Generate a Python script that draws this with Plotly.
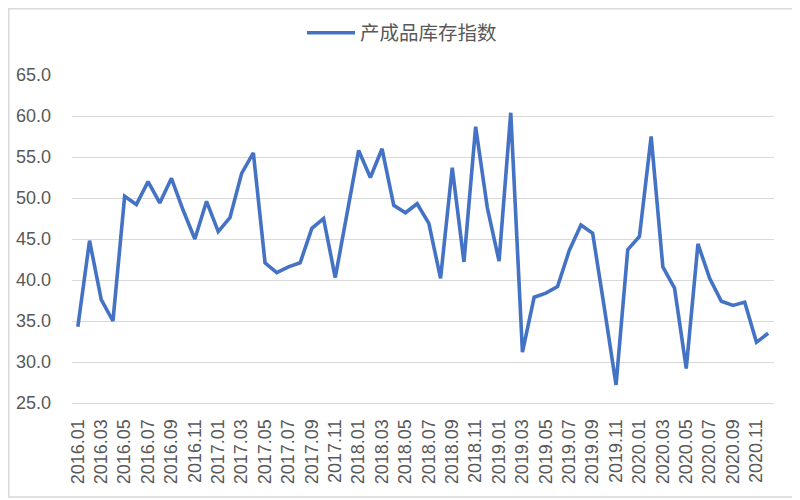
import plotly.graph_objects as go

months = [f"{y}.{m:02d}" for y in range(2016, 2021) for m in range(1, 13)]
values = [34.3, 44.8, 37.6, 35.0, 50.2, 49.2, 52.0, 49.4, 52.4, 48.5,
          45.0, 49.6, 45.9, 47.6, 53.0, 55.5, 42.1, 40.9, 41.6, 42.1,
          46.3, 47.5, 40.3, 48.0, 55.8, 52.5, 56.0, 49.1, 48.2, 49.3,
          46.9, 40.2, 53.7, 42.2, 58.7, 48.8, 42.3, 60.4, 31.2, 37.9,
          38.4, 39.2, 43.6, 46.7, 45.7, 36.6, 27.2, 43.7, 45.3, 57.5,
          41.6, 39.0, 29.2, 44.4, 40.2, 37.4, 36.9, 37.3, 32.4, 33.5]
series_name = "产成品库存指数"
tick_labels = months[::2]
y_ticks = [25, 30, 35, 40, 45, 50, 55, 60, 65]

num_font = "Liberation Sans, Arial, sans-serif"
cjk_font = "Noto Sans CJK SC, Noto Sans, sans-serif"

# page body has an 8px default margin; margins below compensate for it
L, R, T, B = 64, 34, 67, 105
PW, PH = 800 - L - R, 500 - T - B

fig = go.Figure()
fig.add_trace(go.Scatter(
    x=months, y=values, mode="lines", name=series_name,
    line=dict(color="#4472c4", width=3.6),
))

fig.update_layout(
    width=800, height=500,
    margin=dict(l=L, r=R, t=T, b=B, autoexpand=False),
    paper_bgcolor="white", plot_bgcolor="white",
    font=dict(family=num_font, color="#595959", size=18),
    showlegend=True,
    legend=dict(orientation="h", x=(394 - L) / PW, xanchor="center",
                y=1 + (T - 25) / PH, yanchor="middle",
                font=dict(size=19.5, color="#595959", family=cjk_font), itemwidth=48),
    xaxis=dict(type="category", tickvals=tick_labels, ticktext=tick_labels,
               tickangle=-90, showgrid=False, showline=True, linecolor="#d9d9d9",
               linewidth=1, ticks="", tickfont=dict(size=18, color="#595959", family=num_font),
               range=[-0.5, len(months) - 0.5], ticklabelstandoff=8, automargin=False),
    yaxis=dict(range=[25, 65], tickvals=y_ticks, tickformat=".1f",
               showgrid=True, gridcolor="#d9d9d9", gridwidth=1, zeroline=False,
               showline=False, ticks="", tickfont=dict(size=18, color="#595959", family=num_font),
               ticklabelstandoff=20, automargin=False),
    shapes=[dict(type="rect", xref="paper", yref="paper",
                 x0=(0.8 - L) / PW, x1=(790 - L) / PW,
                 y0=-(489 - (500 - B)) / PH, y1=1 + (T - 0.8) / PH,
                 line=dict(color="#d9d9d9", width=1.5), fillcolor="rgba(0,0,0,0)",
                 layer="below")],
)

fig.write_html("out.html")
